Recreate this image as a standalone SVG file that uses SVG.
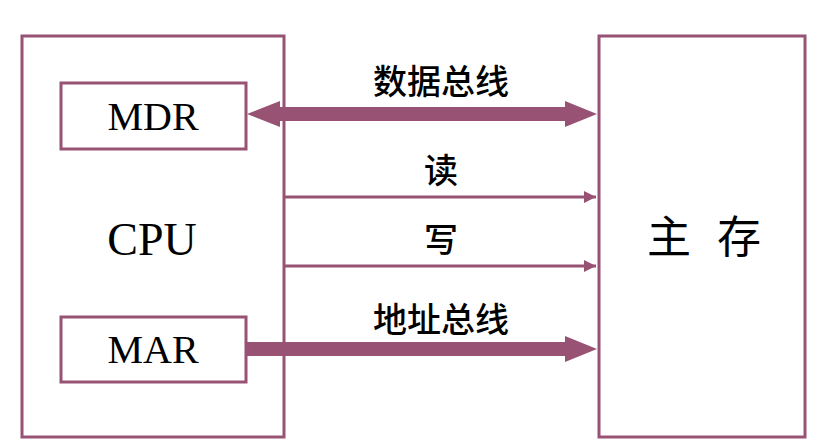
<svg xmlns="http://www.w3.org/2000/svg" width="822" height="443" viewBox="0 0 822 443">
<style>
.box{fill:#fff;stroke:#985274;stroke-width:3}
.bus{fill:#985274}
.thin{stroke:#985274;stroke-width:3;fill:none}
.en{font-family:"Liberation Serif",serif;fill:#000}
.zh{font-family:"Noto Sans CJK SC",sans-serif;fill:#000;font-weight:500}
</style>
<defs>
<marker id="ah" viewBox="0 0 10 10" refX="10" refY="5" markerWidth="5" markerHeight="4" markerUnits="strokeWidth" orient="auto">
<path d="M0,0 L10,5 L0,10 Z" fill="#985274"/>
</marker>
</defs>
<rect width="822" height="443" fill="#fff"/>
<g id="cpu">
<rect class="box" x="22" y="36" width="262" height="401"/>
<text class="en" x="152" y="255" font-size="46" text-anchor="middle">CPU</text>
</g>
<g id="mdr">
<rect class="box" x="61" y="83" width="185" height="66"/>
<text class="en" x="153" y="130" font-size="40" text-anchor="middle">MDR</text>
</g>
<g id="mar">
<rect class="box" x="61" y="317" width="185" height="65"/>
<text class="en" x="153" y="363" font-size="40" text-anchor="middle">MAR</text>
</g>
<g id="mem">
<rect class="box" x="599" y="36" width="206" height="401"/>
<text class="zh" x="708" y="253" font-size="44" text-anchor="middle" style="font-weight:normal;letter-spacing:8px">主 存</text>
</g>
<g id="connectors">
<path class="bus" d="M247,114 L280,101 L280,107 L565,107 L565,101 L597,114 L565,127 L565,121 L280,121 L280,127 Z"/>
<path class="bus" d="M247,342 L565,342 L565,336 L597,349 L565,362 L565,356 L247,356 Z"/>
<line class="thin" x1="285" y1="197" x2="596" y2="197" marker-end="url(#ah)"/>
<line class="thin" x1="285" y1="266" x2="596" y2="266" marker-end="url(#ah)"/>
<text class="zh" x="441" y="94" font-size="34" text-anchor="middle">数据总线</text>
<text class="zh" x="441" y="183" font-size="34" text-anchor="middle">读</text>
<text class="zh" x="441" y="252" font-size="34" text-anchor="middle">写</text>
<text class="zh" x="441" y="332" font-size="34" text-anchor="middle">地址总线</text>
</g>
</svg>
